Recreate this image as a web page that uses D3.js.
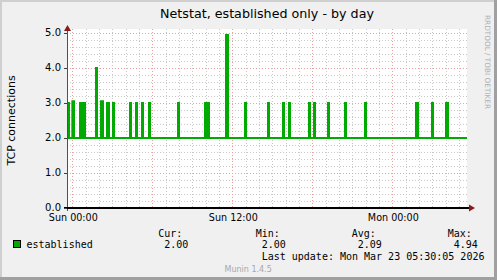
<!DOCTYPE html>
<html><head><meta charset="utf-8">
<script src="https://cdn.jsdelivr.net/npm/d3@7"></script>
<style>html,body{margin:0;padding:0;background:#f0f0f0;}svg{display:block;}</style>
</head><body>
<script>
// ---- data ----
const title = "Netstat, established only - by day";
const yLabel = "TCP connections";
const seriesName = "established";
const baseline = 2.0;
// spikes: start hour, end hour (relative to Sun 00:00), value
const spikeStart = [-0.4, 0.0, 0.575, 0.72, 0.87, 1.775, 2.15, 2.60, 3.05, 4.325, 4.775, 5.225, 5.75, 7.925, 9.95, 10.10, 11.525, 12.95, 14.675, 15.80, 16.25, 17.75, 18.125, 19.175, 20.45, 21.95, 25.775, 26.975, 28.025];
const spikeEnd   = [-0.25, 0.125, 0.65, 0.80, 0.95, 1.85, 2.30, 2.75, 3.125, 4.40, 4.85, 5.30, 5.825, 8.00, 10.03, 10.25, 11.675, 13.03, 14.75, 15.875, 16.325, 17.825, 18.20, 19.25, 20.525, 22.025, 25.925, 27.05, 28.175];
const spikeValue = [3, 3.05, 3, 3, 3, 4, 3.05, 3, 3, 3, 3, 3, 3, 3, 3, 3, 4.94, 3, 3, 3, 3, 3, 3, 3, 3, 3, 3, 3, 3];
const timeDomain = [-0.4, 29.6];
const xTickHours = [0, 12, 24];
const xTickLabels = ["Sun 00:00", "Sun 12:00", "Mon 00:00"];
const yTicks = [0, 1, 2, 3, 4, 5];
const yTickLabels = ["0.0", "1.0", "2.0", "3.0", "4.0", "5.0"];
const statNames = ["Cur:", "Min:", "Avg:", "Max:"];
const statValues = ["2.00", "2.00", "2.09", "4.94"];
const lastUpdate = "Last update: Mon Mar 23 05:30:05 2026";
const footer = "Munin 1.4.5";
const sideText = "RRDTOOL / TOBI OETIKER";

// ---- build series ----
const pts = [];
let cur = timeDomain[0];
spikeStart.forEach((s, i) => {
  if (s > cur) pts.push([cur, baseline]);
  pts.push([s, spikeValue[i]]);
  cur = spikeEnd[i];
});
pts.push([cur, baseline]);
pts.push([timeDomain[1], baseline]);

const W = 497, H = 280;
const L = 67, R = 467, T = 33, B = 208;
const svg = d3.select("body").append("svg").attr("width", W).attr("height", H);

// frame
svg.append("rect").attr("x",0).attr("y",0).attr("width",W).attr("height",H).attr("fill","#f0f0f0");
svg.append("rect").attr("x",0).attr("y",0).attr("width",W).attr("height",2).attr("fill","#cfcfcf");
svg.append("rect").attr("x",0).attr("y",0).attr("width",2).attr("height",H).attr("fill","#cfcfcf");
svg.append("rect").attr("x",W-3).attr("y",0).attr("width",3).attr("height",H).attr("fill","#a0a0a0");
svg.append("rect").attr("x",0).attr("y",H-3).attr("width",W).attr("height",3).attr("fill","#a0a0a0");

const x = d3.scaleLinear().domain(timeDomain).range([L, R]);
const y = d3.scaleLinear().domain([0, 5]).range([B, T]);

// canvas
svg.append("rect").attr("x",L).attr("y",29).attr("width",R-L).attr("height",B-29).attr("fill","#ffffff");

// grid
const g = svg.append("g");
const hMinor = d3.range(0, 5.01, 0.2).filter(v => Math.abs(v - Math.round(v)) > 1e-6);
g.selectAll("line.hmin").data(hMinor).enter().append("line")
  .attr("x1", L).attr("x2", R).attr("y1", d => Math.round(y(d))+0.5).attr("y2", d => Math.round(y(d))+0.5)
  .attr("stroke","#c8c8c8").attr("stroke-dasharray","1,2");
const vMinor = d3.range(0, 30).filter(h => h % 6 !== 0 && x(h) > L && x(h) < R);
g.selectAll("line.vmin").data(vMinor).enter().append("line")
  .attr("x1", d => Math.round(x(d))+0.5).attr("x2", d => Math.round(x(d))+0.5).attr("y1", 29).attr("y2", B)
  .attr("stroke","#c8c8c8").attr("stroke-dasharray","1,2");
g.selectAll("line.hmaj").data(yTicks.slice(1)).enter().append("line")
  .attr("x1", L).attr("x2", R).attr("y1", d => Math.round(y(d))+0.5).attr("y2", d => Math.round(y(d))+0.5)
  .attr("stroke","#e8a0a0").attr("stroke-dasharray","1,2");
g.selectAll("line.vmaj").data([0, 6, 12, 18, 24]).enter().append("line")
  .attr("x1", d => Math.round(x(d))+0.5).attr("x2", d => Math.round(x(d))+0.5).attr("y1", 29).attr("y2", B)
  .attr("stroke","#e8a0a0").attr("stroke-dasharray","1,2");

// data line
const line = d3.line().x(d => x(d[0])).y(d => y(d[1])).curve(d3.curveStepAfter);
svg.append("path").datum(pts).attr("d", line).attr("fill","none").attr("stroke","#00aa00").attr("stroke-width",2);

// axes
svg.append("line").attr("x1",L+0.5).attr("x2",L+0.5).attr("y1",B+3).attr("y2",30).attr("stroke","#505050");
svg.append("path").attr("d",`M${L-3},${31} L${L+4},${31} L${L+0.5},${25} Z`).attr("fill","#8b1a1a");
svg.append("line").attr("x1",L-3).attr("x2",R+3).attr("y1",B).attr("y2",B).attr("stroke","#000").attr("stroke-width",2);
svg.append("path").attr("d",`M${R+2},${B-3.5} L${R+2},${B+3.5} L${R+8},${B} Z`).attr("fill","#8b1a1a");

// y ticks
const yt = svg.append("g");
yt.selectAll("line").data(yTicks).enter().append("line")
  .attr("x1", L-3).attr("x2", L).attr("y1", d => Math.round(y(d))+0.5).attr("y2", d => Math.round(y(d))+0.5).attr("stroke","#404040");
yt.selectAll("text").data(yTicks).enter().append("text")
  .attr("x", L-6).attr("y", d => y(d)+3.3).attr("text-anchor","end")
  .attr("font-family","DejaVu Sans").attr("font-size","10px").attr("fill","#000")
  .text((d,i) => yTickLabels[i]);

// x tick labels
svg.append("g").selectAll("text").data(xTickHours).enter().append("text")
  .attr("x", d => x(d)+1).attr("y", 221).attr("text-anchor","middle")
  .attr("font-family","DejaVu Sans").attr("font-size","9.6px").attr("fill","#000")
  .text((d,i) => xTickLabels[i]);

// title
svg.append("text").attr("x", (L+R)/2).attr("y", 18).attr("text-anchor","middle")
  .attr("font-family","DejaVu Sans").attr("font-size","12.7px").attr("fill","#000").text(title);

// y label
svg.append("text").attr("transform", `translate(15,${(T+B)/2}) rotate(-90)`).attr("text-anchor","middle")
  .attr("font-family","DejaVu Sans").attr("font-size","11px").attr("fill","#000").text(yLabel);

// side text
svg.append("text").attr("transform", `translate(485,15) rotate(90)`).attr("text-anchor","start")
  .attr("font-family","DejaVu Sans").attr("font-size","7.3px").attr("fill","#b0b0b0").text(sideText);

// legend
const mono = "DejaVu Sans Mono";
svg.append("rect").attr("x",13.5).attr("y",240.5).attr("width",7).attr("height",7).attr("fill","#00aa00").attr("stroke","#000");
svg.append("text").attr("x",26.5).attr("y",248).attr("font-family",mono).attr("font-size","10px").text(seriesName);
const statX = [158.3, 255.7, 351.7, 447.7];
svg.append("g").selectAll("text").data(statNames).enter().append("text")
  .attr("x",(d,i)=>statX[i]).attr("y",237).attr("font-family",mono).attr("font-size","10px").text(d=>d);
svg.append("g").selectAll("text").data(statValues).enter().append("text")
  .attr("x",(d,i)=>statX[i]+6).attr("y",248).attr("font-family",mono).attr("font-size","10px").text(d=>d);
svg.append("text").attr("x",261.7).attr("y",260).attr("font-family",mono).attr("font-size","10px").text(lastUpdate);
svg.append("text").attr("x",224.5).attr("y",272).attr("font-family","DejaVu Sans").attr("font-size","8px").attr("fill","#a8a8a8").text(footer);
</script>
</body></html>
